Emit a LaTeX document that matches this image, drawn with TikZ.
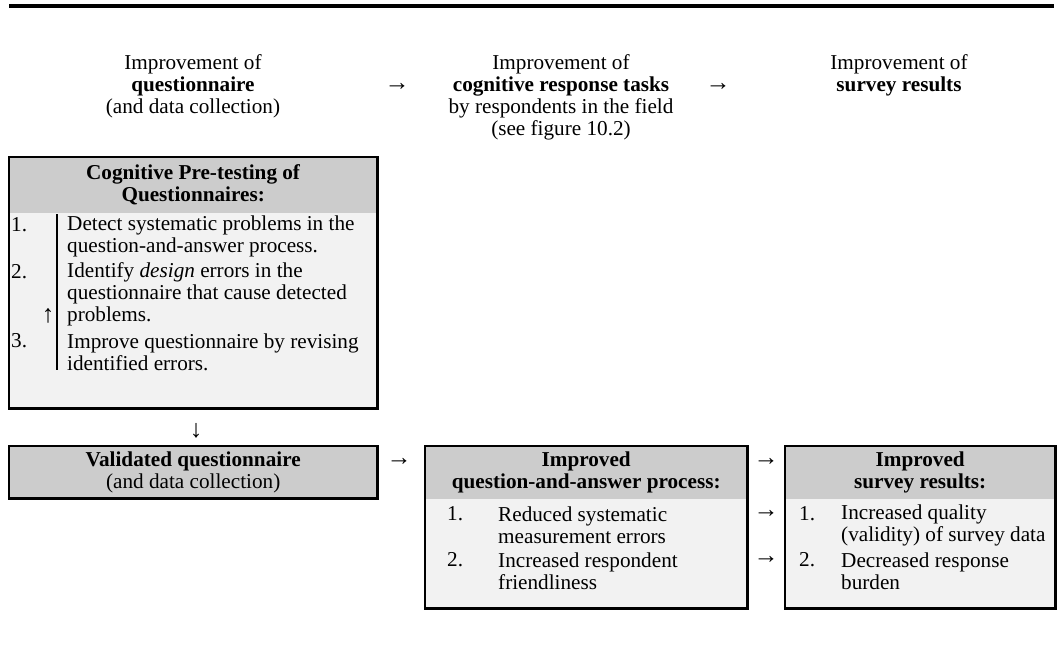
\documentclass[tikz,border=0pt]{standalone}
\usepackage{fontspec}
\setmainfont{Liberation Serif}
\definecolor{headgray}{RGB}{204,204,204}
\definecolor{bodygray}{RGB}{242,242,242}
\tikzset{
  txt/.style={inner sep=0pt, align=center},
  item/.style={inner sep=0pt, anchor=west, align=left},
  num/.style={inner sep=0pt, anchor=west},
  frame/.style={draw=black, line width=2.2pt},
  panel/.style={inner sep=0pt, anchor=north west},
  glyph/.style={inner sep=0pt, font=\fontsize{25}{25}\selectfont},
}
\begin{document}
\begin{tikzpicture}[x=1pt,y=-1pt,font=\fontsize{21.2}{22}\selectfont]
\useasboundingbox (0,0) rectangle (1059,659);
% top rule
\coordinate (r1) at (9,6);
\coordinate (r2) at (1054,6);
\draw[line width=4pt] (r1) -- (r2);
% column headers
\node[txt] (h1) at (193,86) {Improvement of\\\textbf{questionnaire}\\(and data collection)};
\node[txt] (h2) at (561,97) {Improvement of\\\textbf{cognitive response tasks}\\by respondents in the field\\(see figure 10.2)};
\node[txt] (h3) at (899,75) {Improvement of\\\textbf{survey results}};
\node[glyph] (ha1) at (397,87) {\textbf{→}};
\node[glyph] (ha2) at (718,87) {\textbf{→}};
% box 1
\node[panel, fill=bodygray, minimum width=368pt, minimum height=251pt] (b1) at (9,157) {};
\node[panel, fill=headgray, minimum width=368pt, minimum height=56pt] (b1h) at (9,157) {};
\node[txt] (b1t) at (b1h.center) {\textbf{Cognitive Pre-testing of}\\\textbf{Questionnaires:}};
\draw[frame] (b1.north west) rectangle (b1.south east);
\coordinate (v1) at (57,214);
\coordinate (v2) at (57,370);
\draw[line width=1.6pt] (v1) -- (v2);
\node[num] (n11) at (11,225) {1.};
\node[item] (t11) at (67,236) {Detect systematic problems in the\\question-and-answer process.};
\node[num] (n12) at (11,272) {2.};
\node[item] (t12) at (67,294) {Identify \textit{design} errors in the\\questionnaire that cause detected\\problems.};
\node[glyph] (up) at (48,316) {↑};
\node[num] (n13) at (11,341) {3.};
\node[item] (t13) at (67,352) {Improve questionnaire by revising\\identified errors.};
% down arrow
\node[glyph] (dn) at (196,431) {↓};
% box 2
\node[panel, fill=headgray, minimum width=368pt, minimum height=52pt] (b2) at (9,446) {};
\draw[frame] (b2.north west) rectangle (b2.south east);
\node[txt] (b2t) at (b2.center) {\textbf{Validated questionnaire}\\(and data collection)};
\node[glyph] (a23) at (399,462) {→};
% box 3
\node[panel, fill=bodygray, minimum width=322pt, minimum height=162pt] (b3) at (425,446) {};
\node[panel, fill=headgray, minimum width=322pt, minimum height=53pt] (b3h) at (425,446) {};
\node[txt] (b3t) at (b3h.center) {\textbf{Improved}\\\textbf{question-and-answer process:}};
\draw[frame] (b3.north west) rectangle (b3.south east);
\node[num] (n31) at (447,514) {1.};
\node[item] (t31) at (498,525) {Reduced systematic\\measurement errors};
\node[num] (n32) at (447,560) {2.};
\node[item] (t32) at (498,571) {Increased respondent\\friendliness};
% arrows 3 -> 4
\node[glyph] (a34a) at (766,462) {→};
\node[glyph] (a34b) at (766,514) {→};
\node[glyph] (a34c) at (766,560) {→};
% box 4
\node[panel, fill=bodygray, minimum width=270pt, minimum height=162pt] (b4) at (785,446) {};
\node[panel, fill=headgray, minimum width=270pt, minimum height=53pt] (b4h) at (785,446) {};
\node[txt] (b4t) at (b4h.center) {\textbf{Improved}\\\textbf{survey results:}};
\draw[frame] (b4.north west) rectangle (b4.south east);
\node[num] (n41) at (799,514) {1.};
\node[item] (t41) at (841,525) {Increased quality\\(validity) of survey data};
\node[num] (n42) at (799,560) {2.};
\node[item] (t42) at (841,571) {Decreased response\\burden};
\end{tikzpicture}
\end{document}
